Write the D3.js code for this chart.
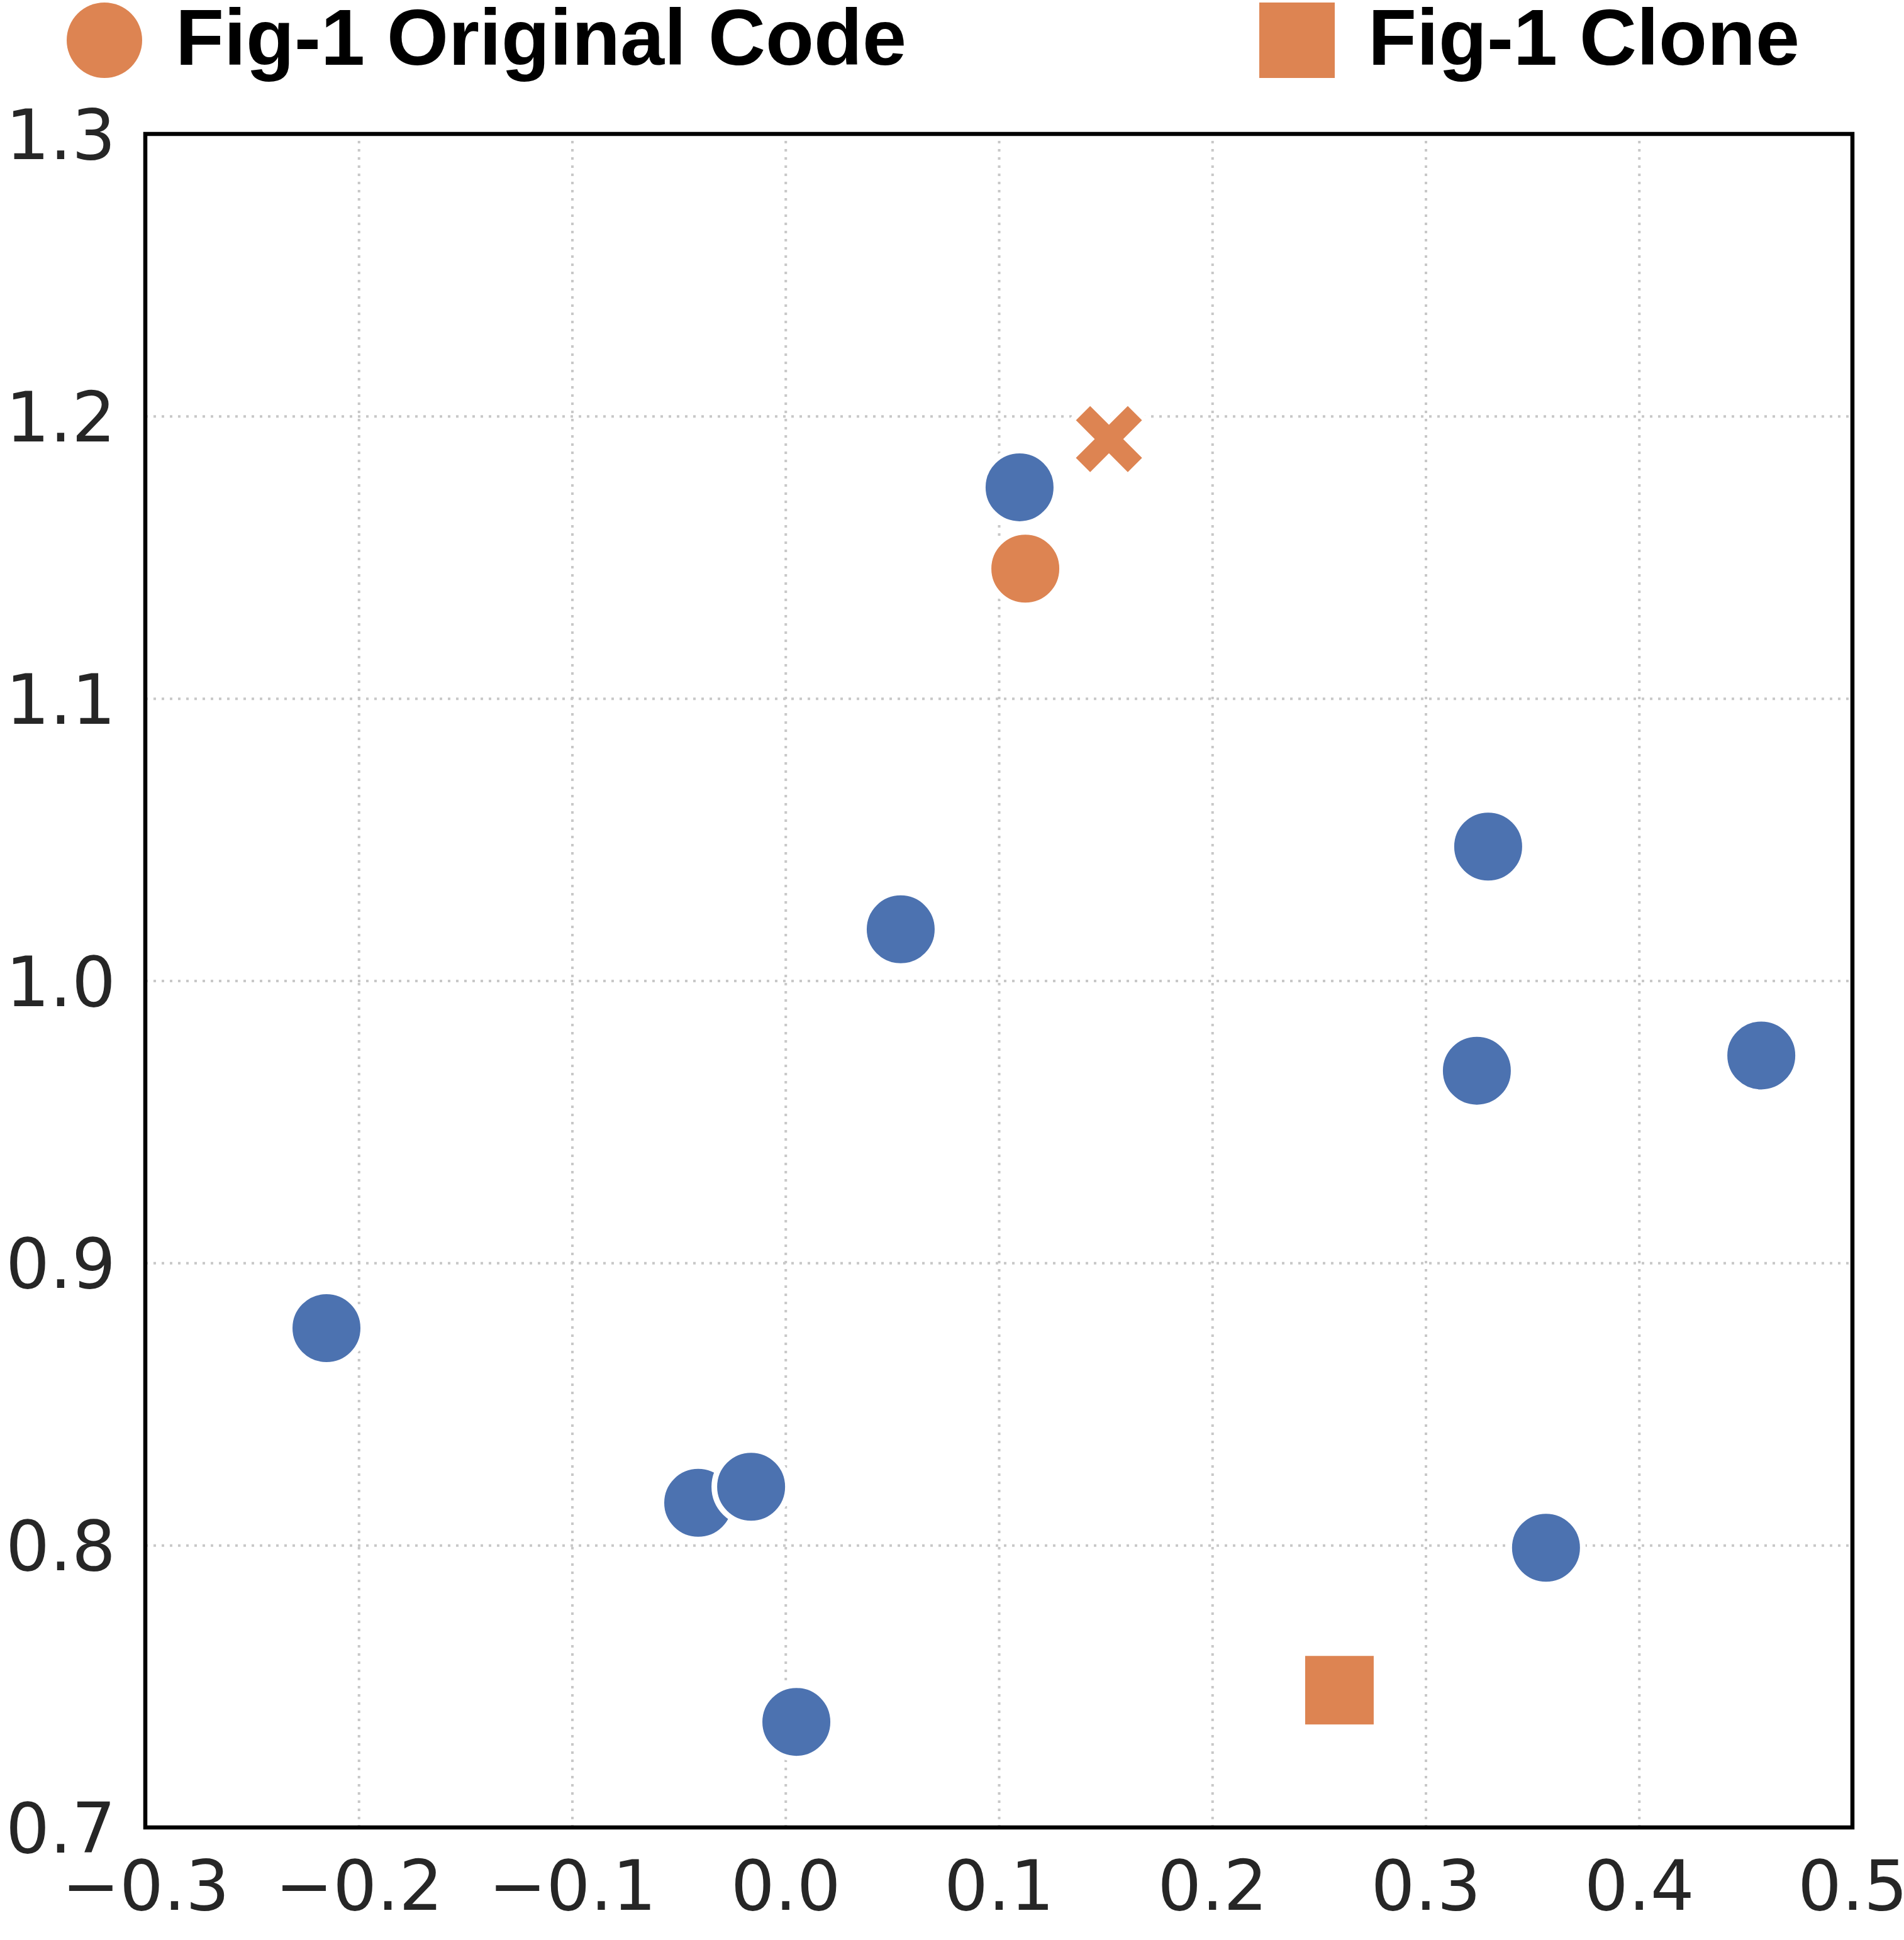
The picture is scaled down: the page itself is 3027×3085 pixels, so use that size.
<!DOCTYPE html>
<html>
<head>
<meta charset="utf-8">
<script src="https://cdn.jsdelivr.net/npm/d3@7"></script>
<style>
  body { margin: 0; background: #fff; }
</style>
</head>
<body>
<div id="chart"></div>
<script>
// values
const xTicks = [-0.3, -0.2, -0.1, 0.0, 0.1, 0.2, 0.3, 0.4, 0.5];
const yTicks = [0.7, 0.8, 0.9, 1.0, 1.1, 1.2, 1.3];

const otherX = [0.1097, 0.0540, 0.3293, 0.3240, 0.4573, -0.2151, -0.0409, -0.0161, 0.3564, 0.0051];
const otherY = [1.1748, 1.0182, 1.0475, 0.9681, 0.9735, 0.8769, 0.8150, 0.8207, 0.7991, 0.7374];

const originalX = [0.1124];
const originalY = [1.1460];
const cloneX = [0.2596];
const cloneY = [0.7486];
const crossX = [0.1516];
const crossY = [1.1919];

const legendLabels = ["Fig-1 Original Code", "Fig-1 Clone"];

const blue = "#4c72b0";
const orange = "#dd8452";

const W = 3027, H = 3085;
const margin = { top: 213, right: 82, bottom: 179, left: 231 };
const width = W - margin.left - margin.right;
const height = H - margin.top - margin.bottom;

const svg = d3.select("#chart")
    .append("svg")
    .attr("width", W)
    .attr("height", H)
    .style("background", "#fff");

const x = d3.scaleLinear().domain([-0.3, 0.5]).range([0, width]);
const y = d3.scaleLinear().domain([0.7, 1.3]).range([height, 0]);

const g = svg.append("g")
    .attr("transform", "translate(" + margin.left + "," + margin.top + ")");

// grid
g.append("g")
    .attr("class", "xgrid")
    .attr("transform", "translate(0," + height + ")")
    .call(d3.axisBottom(x).tickValues(xTicks).tickSize(-height).tickFormat(""))
    .call(a => a.select(".domain").remove())
    .selectAll("line")
    .attr("stroke", "#c8c8c8")
    .attr("stroke-width", 4)
    .attr("stroke-dasharray", "4,9");

g.append("g")
    .attr("class", "ygrid")
    .call(d3.axisLeft(y).tickValues(yTicks).tickSize(-width).tickFormat(""))
    .call(a => a.select(".domain").remove())
    .selectAll("line")
    .attr("stroke", "#c8c8c8")
    .attr("stroke-width", 4)
    .attr("stroke-dasharray", "4,9");

// tick labels
const fmt = d3.format(".1f");

g.append("g")
    .attr("class", "xAxis")
    .attr("transform", "translate(0," + height + ")")
    .call(d3.axisBottom(x).tickValues(xTicks).tickSize(0).tickPadding(53).tickFormat(fmt))
    .call(a => a.select(".domain").remove())
    .selectAll("text")
    .attr("font-family", "DejaVu Sans")
    .attr("font-size", 110)
    .attr("fill", "#262626");

g.append("g")
    .attr("class", "yAxis")
    .call(d3.axisLeft(y).tickValues(yTicks).tickSize(0).tickPadding(47).tickFormat(fmt))
    .call(a => a.select(".domain").remove())
    .selectAll("text")
    .attr("dy", "0.36em")
    .attr("font-family", "DejaVu Sans")
    .attr("font-size", 110)
    .attr("fill", "#262626");

// filled "X" marker like matplotlib's, size = half extent
const filledX = {
    draw(context, size) {
        const h = size, a = size * 0.4924;
        const pts = [[0, -a], [h - a, -h], [h, -(h - a)], [a, 0], [h, h - a], [h - a, h],
                     [0, a], [-(h - a), h], [-h, h - a], [-a, 0], [-h, -(h - a)], [-(h - a), -h]];
        context.moveTo(pts[0][0], pts[0][1]);
        for (let i = 1; i < pts.length; i++) context.lineTo(pts[i][0], pts[i][1]);
        context.closePath();
    }
};

const circleR = 58.5;
const edge = 9;

const marks = g.append("g").attr("class", "marks");

marks.selectAll("path.other")
    .data(d3.range(otherX.length))
    .join("path")
    .attr("class", "other")
    .attr("d", d3.symbol().type(d3.symbolCircle).size(Math.PI * circleR * circleR))
    .attr("transform", i => "translate(" + x(otherX[i]) + "," + y(otherY[i]) + ")")
    .attr("fill", blue)
    .attr("stroke", "#fff")
    .attr("stroke-width", edge);

marks.selectAll("path.original")
    .data(d3.range(originalX.length))
    .join("path")
    .attr("class", "original")
    .attr("d", d3.symbol().type(d3.symbolCircle).size(Math.PI * circleR * circleR))
    .attr("transform", i => "translate(" + x(originalX[i]) + "," + y(originalY[i]) + ")")
    .attr("fill", orange)
    .attr("stroke", "#fff")
    .attr("stroke-width", edge);

marks.selectAll("path.clone")
    .data(d3.range(cloneX.length))
    .join("path")
    .attr("class", "clone")
    .attr("d", d3.symbol().type(d3.symbolSquare).size(118 * 118))
    .attr("transform", i => "translate(" + x(cloneX[i]) + "," + y(cloneY[i]) + ")")
    .attr("fill", orange)
    .attr("stroke", "#fff")
    .attr("stroke-width", edge);

marks.selectAll("path.cross")
    .data(d3.range(crossX.length))
    .join("path")
    .attr("class", "cross")
    .attr("d", d3.symbol().type(filledX).size(58.9))
    .attr("transform", i => "translate(" + x(crossX[i]) + "," + y(crossY[i]) + ")")
    .attr("fill", orange)
    .attr("stroke", "#fff")
    .attr("stroke-width", edge);

// frame
g.append("rect")
    .attr("x", 0)
    .attr("y", 0)
    .attr("width", width)
    .attr("height", height)
    .attr("fill", "none")
    .attr("stroke", "#000")
    .attr("stroke-width", 6.5);

// legend
const legend = svg.append("g").attr("class", "legend");

legend.append("circle")
    .attr("cx", 166)
    .attr("cy", 64)
    .attr("r", 60)
    .attr("fill", orange);

legend.append("rect")
    .attr("x", 2002)
    .attr("y", 4)
    .attr("width", 120)
    .attr("height", 120)
    .attr("fill", orange);

legend.selectAll("text")
    .data(legendLabels)
    .join("text")
    .attr("x", (d, i) => i === 0 ? 279 : 2175)
    .attr("y", 103)
    .text(d => d)
    .attr("font-family", "Liberation Sans, Arial, sans-serif")
    .attr("font-weight", "bold")
    .attr("font-size", 126)
    .attr("fill", "#000");
</script>
</body>
</html>
